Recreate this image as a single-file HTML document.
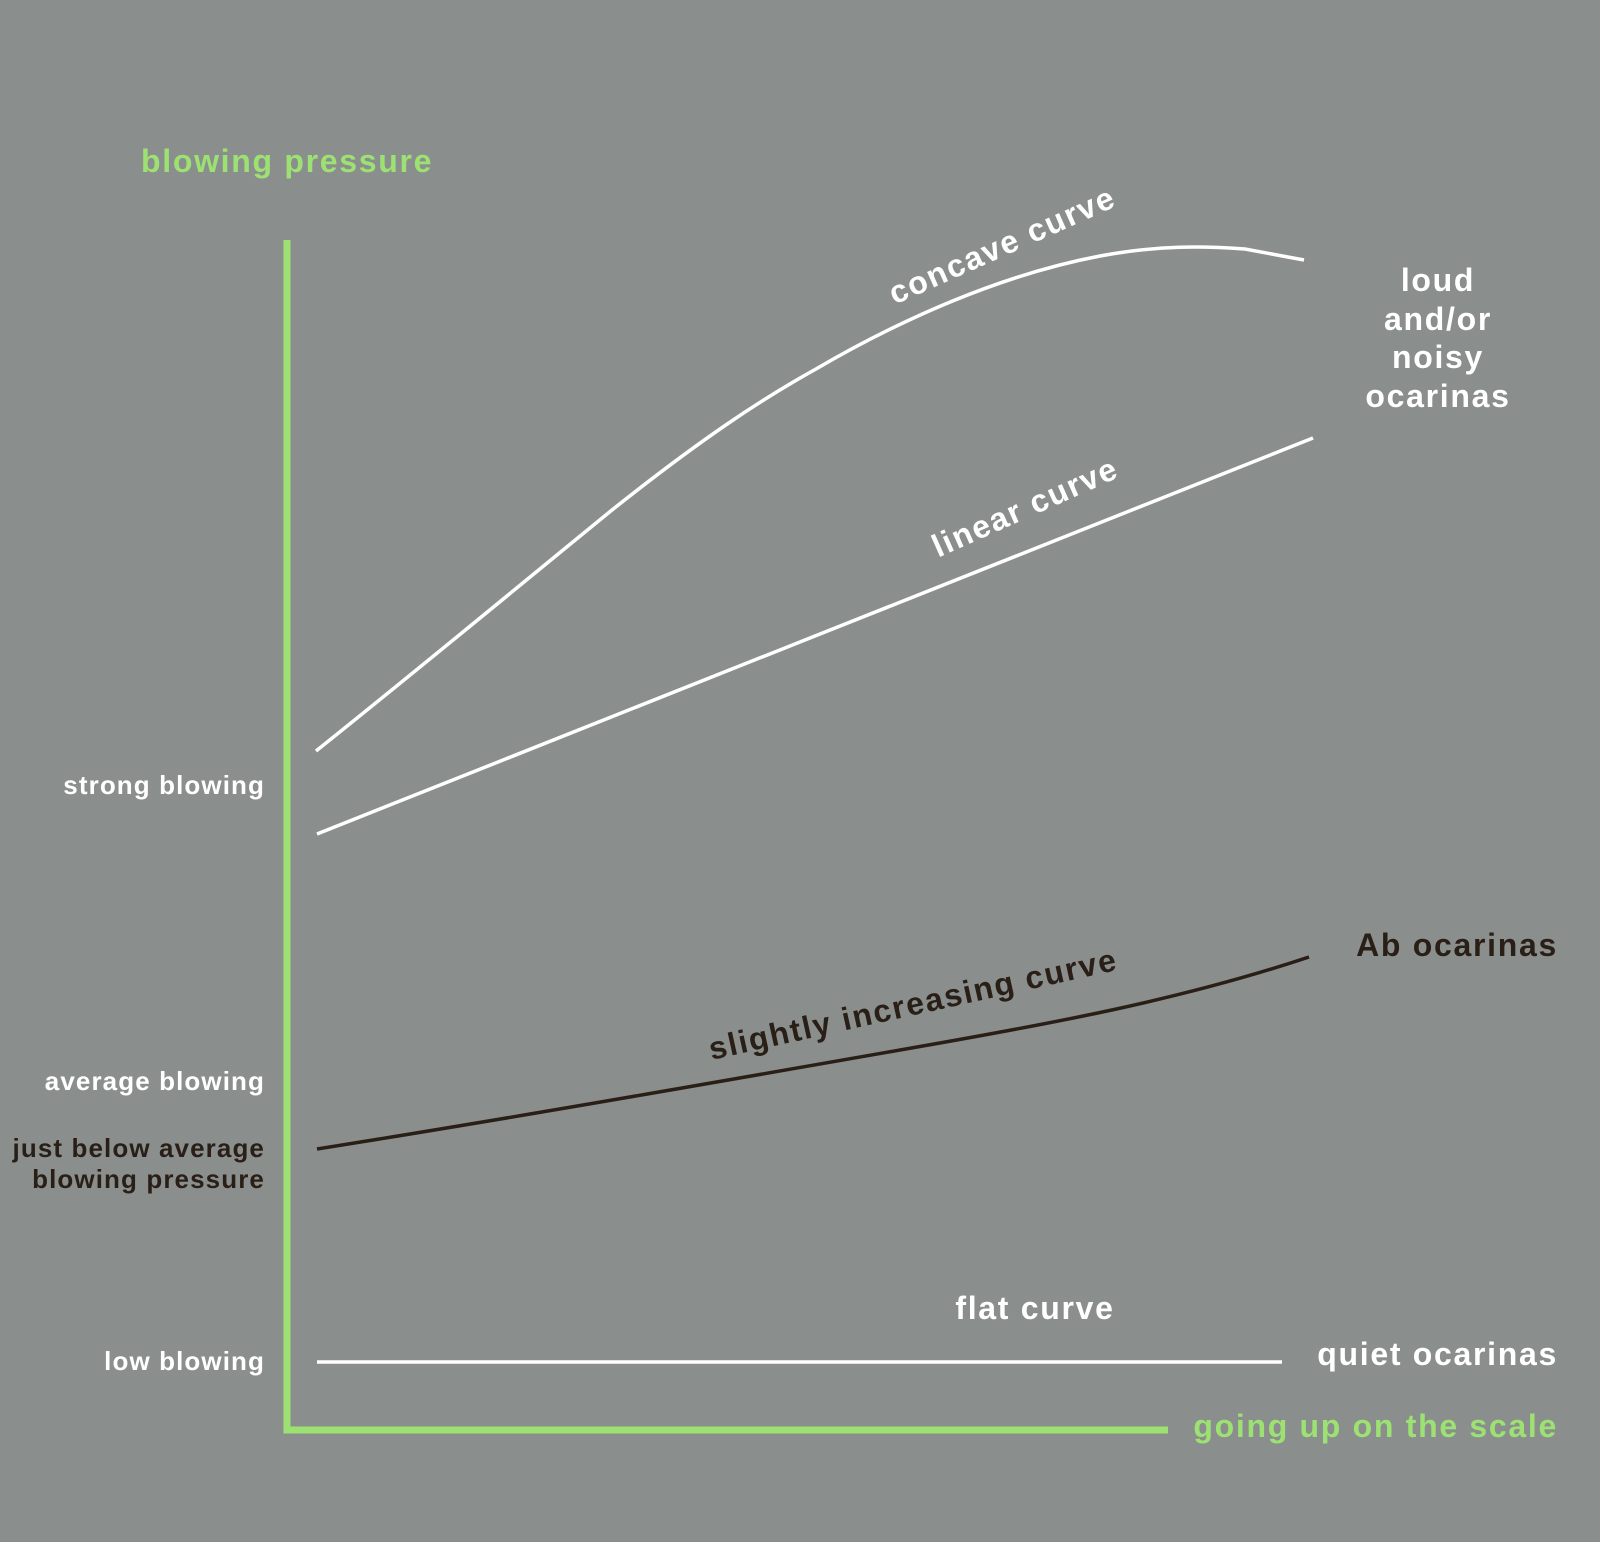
<!DOCTYPE html>
<html><head><meta charset="utf-8"><style>
html,body{margin:0;padding:0;background:#8a8f8e;}
svg{display:block;}
text{font-family:"Liberation Sans","DejaVu Sans",sans-serif;font-weight:bold;}
.b{letter-spacing:1.7px;}
.s{letter-spacing:1.1px;}
</style></head><body>
<svg width="1600" height="1542" viewBox="0 0 1600 1542" xmlns="http://www.w3.org/2000/svg">
<rect width="1600" height="1542" fill="#8a8f8e"/>
<path d="M287 240 L287 1430 L1168 1430" fill="none" stroke="#9de173" stroke-width="7"/>
<text class="b" x="141" y="172" font-size="32" fill="#9de173">blowing pressure</text>
<text class="b" x="1558" y="1437" font-size="32" fill="#9de173" text-anchor="end">going up on the scale</text>
<path d="M316 751 C420 668 520 585 612 510 C700 440 760 400 816 369 C900 320 1000 275 1100 256 C1160 245 1204 246 1245 249 L1304 260" fill="none" stroke="#fff" stroke-width="3.5"/>
<path d="M317 834 L1313 438" fill="none" stroke="#fff" stroke-width="3.5"/>
<path d="M317 1149 C500 1120 700 1085 900 1050 C1050 1024 1180 1000 1309 957" fill="none" stroke="#2a1f17" stroke-width="3.5"/>
<path d="M317 1362 L1282 1362" fill="none" stroke="#fff" stroke-width="3.5"/>
<g font-size="26" text-anchor="end" class="s">
<text class="s" x="265" y="794" fill="#fff">strong blowing</text>
<text class="s" x="265" y="1090" fill="#fff">average blowing</text>
<text class="s" x="265" y="1157" fill="#2a1f17">just below average</text>
<text class="s" x="265" y="1188" fill="#2a1f17">blowing pressure</text>
<text class="s" x="265" y="1370" fill="#fff">low blowing</text>
</g>
<g font-size="32" fill="#fff" text-anchor="middle">
<text class="b" x="1438" y="291">loud</text>
<text class="b" x="1438" y="330">and/or</text>
<text class="b" x="1438" y="368">noisy</text>
<text class="b" x="1438" y="407">ocarinas</text>
</g>
<text class="b" x="1558" y="956" font-size="32" fill="#2a1f17" text-anchor="end">Ab ocarinas</text>
<text class="b" x="1558" y="1365" font-size="32" fill="#fff" text-anchor="end">quiet ocarinas</text>
<text class="b" x="1035" y="1319" font-size="32" fill="#fff" text-anchor="middle">flat curve</text>
<text class="b" x="1002" y="256" font-size="32" fill="#fff" text-anchor="middle" transform="rotate(-24 1002 245)">concave curve</text>
<text class="b" x="1025" y="518" font-size="32" fill="#fff" text-anchor="middle" transform="rotate(-24 1025 507)">linear curve</text>
<text class="b" x="913" y="1015" font-size="32" fill="#2a1f17" text-anchor="middle" transform="rotate(-12.5 913 1004)">slightly increasing curve</text>
</svg>
</body></html>
